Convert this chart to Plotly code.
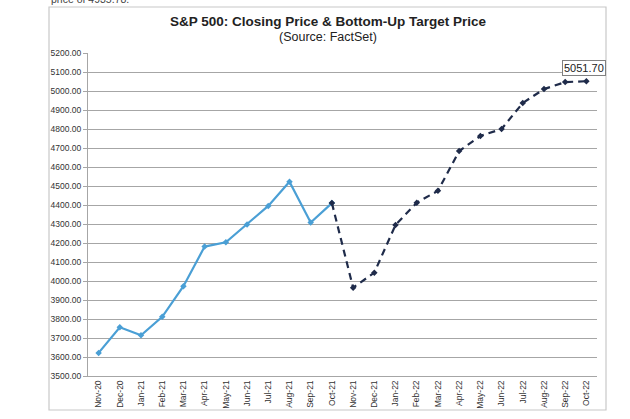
import plotly.graph_objects as go

months = ["Nov-20", "Dec-20", "Jan-21", "Feb-21", "Mar-21", "Apr-21", "May-21", "Jun-21",
          "Jul-21", "Aug-21", "Sep-21", "Oct-21", "Nov-21", "Dec-21", "Jan-22", "Feb-22",
          "Mar-22", "Apr-22", "May-22", "Jun-22", "Jul-22", "Aug-22", "Sep-22", "Oct-22"]

closing_months = months[:12]
closing_price = [3621.6, 3756.1, 3714.2, 3811.2, 3972.9, 4181.2, 4204.1, 4297.5,
                 4395.3, 4522.7, 4307.5, 4410.0]

target_months = months[11:]
target_price = [4410.0, 3965.0, 4044.0, 4295.0, 4412.0, 4475.0, 4684.0, 4763.0,
                4800.0, 4937.0, 5010.0, 5047.0, 5051.70]

title_text = "<b>S&P 500: Closing Price & Bottom-Up Target Price</b>"
subtitle_text = "(Source: FactSet)"
top_text = "price of 4935.78."

FONT = "Liberation Sans, Arial, sans-serif"

# plot area in pixels: x 88..597, y 53..376
L, R, T, B = 88, 597, 53, 376
W, H = R - L, B - T


def px(x):
    return (x - L) / W


def py(y):
    return (B - y) / H


fig = go.Figure()
fig.add_trace(go.Scatter(
    x=closing_months, y=closing_price, mode="lines+markers",
    line=dict(color="#4a9fd5", width=2.2),
    marker=dict(symbol="diamond", size=5, color="#4a9fd5"),
    showlegend=False, hoverinfo="skip"))
fig.add_trace(go.Scatter(
    x=target_months, y=target_price, mode="lines+markers",
    line=dict(color="#1f2b4a", width=2.2, dash="7px,5px"),
    marker=dict(symbol="diamond", size=5, color="#1f2b4a"),
    showlegend=False, hoverinfo="skip"))

fig.add_annotation(x=target_months[-1], y=target_price[-1], text=f"{target_price[-1]:.2f}",
                   showarrow=False, yshift=13, xshift=-2,
                   bordercolor="#808080", borderwidth=1, borderpad=1, bgcolor="white",
                   font=dict(family=FONT, size=11, color="#222"))

# title and subtitle
fig.add_annotation(xref="paper", yref="paper", x=px(328), y=py(21.5),
                   xanchor="center", yanchor="middle",
                   text=title_text, showarrow=False,
                   font=dict(family=FONT, size=13.5, color="#222"))
fig.add_annotation(xref="paper", yref="paper", x=px(328), y=py(37),
                   xanchor="center", yanchor="middle",
                   text=subtitle_text, showarrow=False,
                   font=dict(family=FONT, size=12.5, color="#222"))
# cut-off article text at top (partly above the visible page, as in the reference)
fig.add_annotation(xref="paper", yref="paper", x=px(49), y=py(-1),
                   xanchor="left", yanchor="middle",
                   text=top_text, showarrow=False,
                   font=dict(family=FONT, size=10.5, color="#444"))

# outer chart border
fig.add_shape(type="rect", xref="paper", yref="paper",
              x0=px(49), x1=px(606), y0=py(410), y1=py(7),
              line=dict(color="#c8c8c8", width=1.2), layer="below")

fig.update_layout(
    width=630, height=419,
    margin=dict(l=L, r=630 - R, t=T, b=419 - B, autoexpand=False),
    paper_bgcolor="white", plot_bgcolor="white",
    font=dict(family=FONT, color="#333"),
    xaxis=dict(type="category", categoryorder="array", categoryarray=months,
               range=[-0.5, 23.5], tickangle=-90, tickfont=dict(size=8.5, color="#333"),
               showgrid=False, showline=True, linecolor="#a6a6a6", linewidth=1,
               ticks="", fixedrange=True),
    yaxis=dict(range=[3500, 5200], dtick=100, tickformat=".2f",
               tickfont=dict(size=8.5, color="#333"),
               showgrid=True, gridcolor="#a6a6a6", gridwidth=1,
               showline=True, linecolor="#a6a6a6", linewidth=1,
               ticks="outside", ticklen=4, tickcolor="#a6a6a6", zeroline=False),
)

fig.write_html("out.html", config={"displayModeBar": False},
               post_script="document.body.style.margin='0';document.body.style.overflow='hidden';")
